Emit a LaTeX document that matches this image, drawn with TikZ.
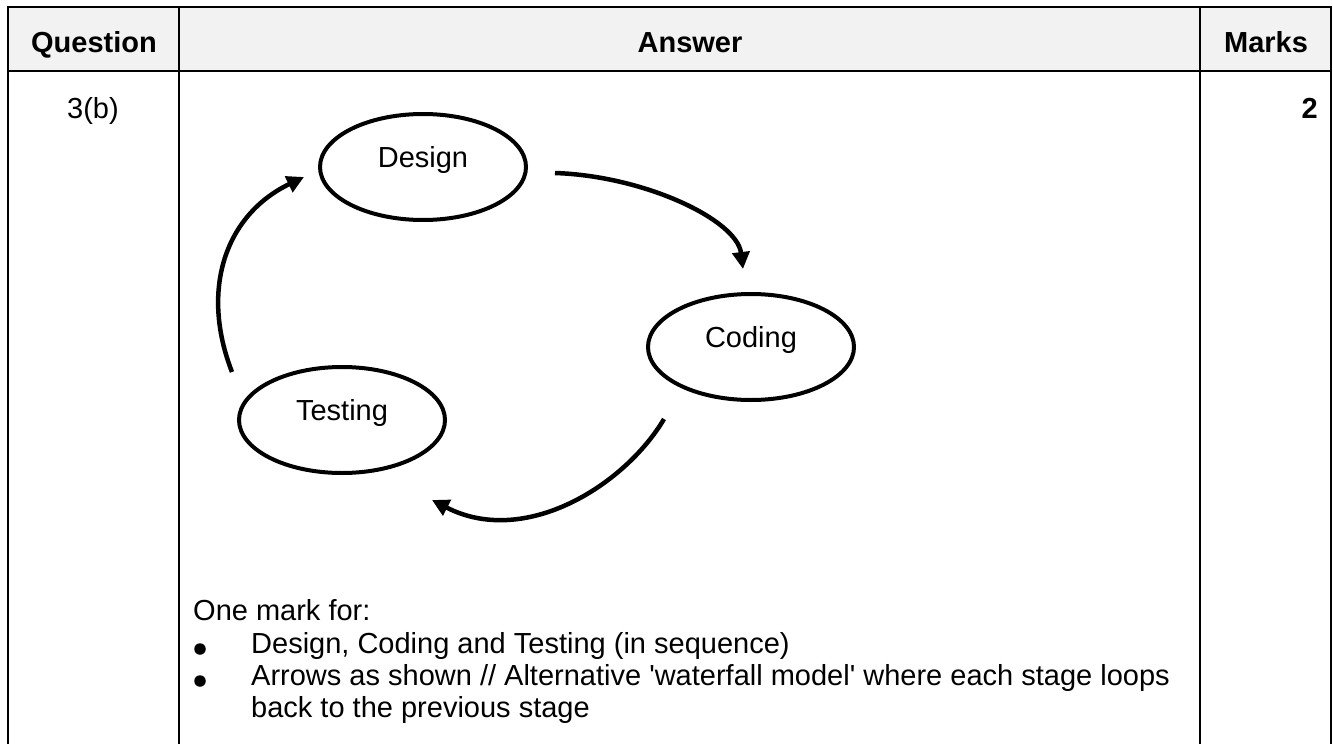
\documentclass[tikz,border=0pt]{standalone}
\usepackage{fontspec}
\setmainfont{Liberation Sans}
\usetikzlibrary{shapes.geometric,arrows.meta}
\definecolor{headgrey}{HTML}{F2F2F2}
\begin{document}
\begin{tikzpicture}[x=1pt,y=-1pt,
  rule/.style={line width=2pt},
  stage/.style={draw, ellipse, line width=4pt, minimum width=206pt, minimum height=106pt,
    inner sep=0pt, text height=0pt, text depth=0pt, font=\fontsize{29}{35}\selectfont},
  flow/.style={line width=4.5pt, -{Triangle[length=17pt,width=17pt]}},
  head/.style={anchor=base, font=\fontsize{29}{35}\selectfont\bfseries},
  cell/.style={font=\fontsize{29}{35}\selectfont},
  bodytext/.style={anchor=base west, inner sep=0pt, font=\fontsize{29}{35}\selectfont},
  bulletmark/.style={circle, fill=black, inner sep=0pt, minimum size=11.5pt}]
\fill[white] (0,0) rectangle (1333,744);
\useasboundingbox (0,0) rectangle (1333,744);
% table
\fill[headgrey] (8,7) rectangle (1331,71);
\draw[rule] (8,744) -- (8,7) -- (1331,7) -- (1331,744);
\draw[rule] (8,71) -- (1331,71);
\draw[rule] (179,7) -- (179,744);
\draw[rule] (1200,7) -- (1200,744);
% headers
\node[head] (hq) at (94,52) {Question};
\node[head] (ha) at (690,52) {Answer};
\node[head] (hm) at (1266,52) {Marks};
\node[cell, anchor=base] (qn) at (93,118) {3(b)};
\node[cell, anchor=base east, inner sep=0pt, font=\fontsize{29}{35}\selectfont\bfseries] (mk) at (1318,118) {2};
% stages
\node[stage] (design) at (423,167) {Design};
\node[stage] (coding) at (751,347) {Coding};
\node[stage] (testing) at (342,420) {Testing};
% arrow ends
\coordinate (a1s) at (232,372);
\coordinate (a1e) at (304,177);
\coordinate (a2s) at (555,173);
\coordinate (a2e) at (743,269);
\coordinate (a3s) at (664,419);
\coordinate (a3e) at (432,500);
\draw[flow] (a1s) .. controls (200,290) and (225,215) .. (a1e);
\draw[flow] (a2s) .. controls (645,176) and (737,220) .. (a2e);
\draw[flow] (a3s) .. controls (625,485) and (525,548) .. (a3e);
% answer notes
\node[bodytext] (n0) at (193,620) {One mark for:};
\node[bulletmark] (b1) at (200,649) {};
\node[bodytext] (n1) at (251,653) {Design, Coding and Testing (in sequence)};
\node[bulletmark] (b2) at (200,681) {};
\node[bodytext] (n2) at (251,685) {Arrows as shown // Alternative \textquotesingle waterfall model\textquotesingle{} where each stage loops};
\node[bodytext] (n3) at (251,717) {back to the previous stage};
\end{tikzpicture}
\end{document}
